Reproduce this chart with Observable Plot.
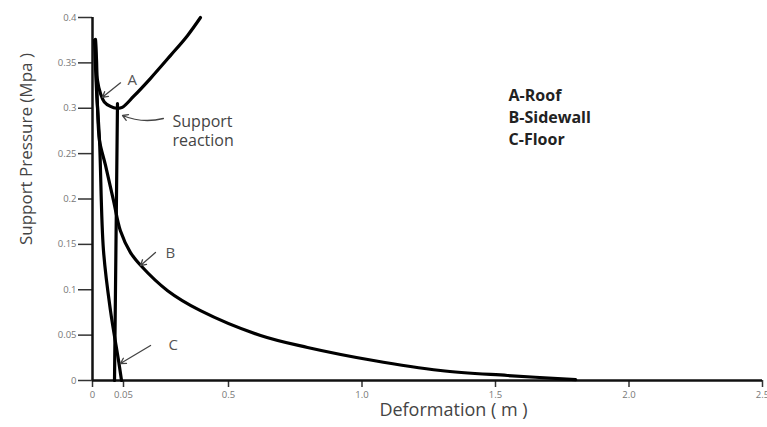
<!DOCTYPE html>
<html>
<head>
<meta charset="utf-8">
<script src="https://cdn.jsdelivr.net/npm/d3@7"></script>
<script src="https://cdn.jsdelivr.net/npm/@observablehq/plot@0.6"></script>
<style>
  html, body { margin: 0; padding: 0; background: #fff; }
  #chart { width: 767px; height: 427px; }
</style>
</head>
<body>
<div id="chart"></div>
<script>
// Curve A – Roof (deformation m, pressure MPa)
const roofX = [0.0048, 0.0065, 0.008, 0.013, 0.019, 0.029, 0.039, 0.048, 0.093, 0.166, 0.251, 0.324, 0.380];
const roofY = [0.376, 0.353, 0.331, 0.316, 0.307, 0.302, 0.300, 0.301, 0.313, 0.333, 0.358, 0.380, 0.400];
// Curve B – Sidewall
const wallX = [0.0048, 0.0065, 0.008, 0.0113, 0.021, 0.034, 0.045, 0.080, 0.123, 0.239, 0.380, 0.620, 0.796, 1.043, 1.294, 1.545, 1.80];
const wallY = [0.375, 0.331, 0.303, 0.2645, 0.237, 0.198, 0.165, 0.141, 0.127, 0.099, 0.077, 0.0496, 0.0364, 0.022, 0.011, 0.0055, 0.001];
// Curve C – Floor
const floorX = [0.0032, 0.0065, 0.0113, 0.0177, 0.029, 0.042, 0.0468];
const floorY = [0.375, 0.3196, 0.2645, 0.1433, 0.077, 0.022, 0];
// Support reaction line
const supportX = [0.0355, 0.0403];
const supportY = [0, 0.305];

const xTicks = [0, 0.05, 0.5, 1.0, 1.5, 2.0, 2.5];
const xTickLabels = ["0", "0.05", "0.5", "1.0", "1.5", "2.0", "2.5"];
const yTicks = [0, 0.05, 0.1, 0.15, 0.2, 0.25, 0.3, 0.35, 0.4];
const yTickLabels = ["0", "0.05", "0.1", "0.15", "0.2", "0.25", "0.3", "0.35", "0.4"];
const legendLines = ["A-Roof", "B-Sidewall", "C-Floor"];

const toPts = (xs, ys) => xs.map((x, i) => ({x, y: ys[i]}));
const roof = toPts(roofX, roofY);
const wall = toPts(wallX, wallY);
const floor = toPts(floorX, floorY);
const support = toPts(supportX, supportY);

// the original x axis is drawn piecewise (0–0.05 stretched)
const piece = d3.scaleLinear().domain([0, 0.05, 0.5, 2.5]).range([0, 31, 136, 670]);

const font = "'Open Sans', 'DejaVu Sans', sans-serif";

const chart = Plot.plot({
  width: 767,
  height: 427,
  marginLeft: 92,
  marginRight: 5,
  marginTop: 17,
  marginBottom: 47,
  style: {fontFamily: font, background: "#fff"},
  x: {type: "linear", transform: piece, domain: [0, 670]},
  y: {domain: [0, 0.4]},
  marks: [
    Plot.axisY({ticks: yTicks, tickFormat: (d, i) => yTickLabels[i], tickSize: 14, tickPadding: 2,
      fontSize: 9.5, color: "#777", stroke: "#333", strokeWidth: 1.5, label: null}),
    Plot.axisX({ticks: xTicks.map(piece), tickFormat: (d, i) => xTickLabels[i], tickSize: 7, tickPadding: 4,
      fontSize: 9.5, color: "#777", stroke: "#333", strokeWidth: 1.5, label: null}),
    Plot.ruleX([0], {y1: 0, y2: 0.4, stroke: "#111", strokeWidth: 2.5}),
    Plot.ruleY([0], {x1: 0, x2: 2.5, stroke: "#111", strokeWidth: 2.5}),
    Plot.line(roof, {x: "x", y: "y", curve: "catmull-rom", stroke: "#000", strokeWidth: 3.2}),
    Plot.line(wall, {x: "x", y: "y", curve: "catmull-rom", stroke: "#000", strokeWidth: 3.2}),
    Plot.line(floor, {x: "x", y: "y", curve: "catmull-rom", stroke: "#000", strokeWidth: 3.2}),
    Plot.line(support, {x: "x", y: "y", stroke: "#000", strokeWidth: 3.2}),
    // annotation arrows
    Plot.arrow([{x1: 0.0452, y1: 0.328, x2: 0.016, y2: 0.312}], {x1: "x1", y1: "y1", x2: "x2", y2: "y2",
      stroke: "#444", strokeWidth: 1.3, headLength: 7}),
    Plot.arrow([{x1: 0.221, y1: 0.2887, x2: 0.0484, y2: 0.292}], {x1: "x1", y1: "y1", x2: "x2", y2: "y2",
      stroke: "#444", strokeWidth: 1.3, headLength: 7, bend: 18}),
    Plot.arrow([{x1: 0.187, y1: 0.141, x2: 0.123, y2: 0.1267}], {x1: "x1", y1: "y1", x2: "x2", y2: "y2",
      stroke: "#444", strokeWidth: 1.3, headLength: 7}),
    Plot.arrow([{x1: 0.166, y1: 0.0386, x2: 0.045, y2: 0.0187}], {x1: "x1", y1: "y1", x2: "x2", y2: "y2",
      stroke: "#444", strokeWidth: 1.3, headLength: 7}),
    Plot.text(["A"], {x: 0.067, y: 0.331, textAnchor: "start", fontSize: 15, fill: "#555"}),
    Plot.text(["B"], {x: 0.23, y: 0.14, textAnchor: "start", fontSize: 15, fill: "#555"}),
    Plot.text(["C"], {x: 0.243, y: 0.0386, textAnchor: "start", fontSize: 15, fill: "#555"}),
    Plot.text(["Support\nreaction"], {x: 0.26, y: 0.2755, textAnchor: "start", fontSize: 16, lineHeight: 1.15, fill: "#444"}),
    Plot.text(legendLines, {x: 1.549, y: (d, i) => 0.314 - i * 0.0243, textAnchor: "start", fontSize: 16, fontWeight: "bold", fill: "#222"}),
    // axis titles
    Plot.text(["Support Pressure (Mpa )"], {frameAnchor: "left", dx: -66, rotate: -90, textAnchor: "middle",
      fontSize: 17, fill: "#444", y: 0.255}),
    Plot.text(["Deformation ( m )"], {frameAnchor: "bottom", dx: 26, dy: 35, fontSize: 18, fill: "#444"})
  ]
});
document.getElementById("chart").appendChild(chart);
</script>
</body>
</html>
